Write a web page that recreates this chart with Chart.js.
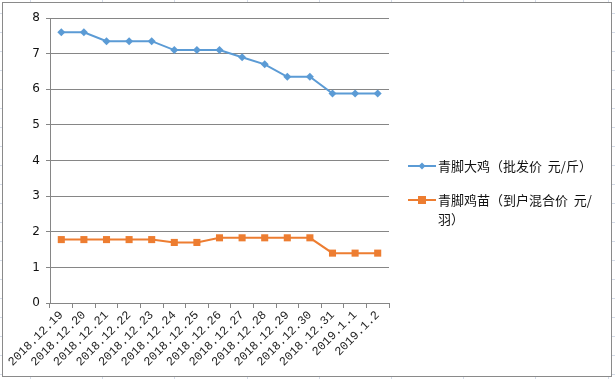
<!DOCTYPE html>
<html>
<head>
<meta charset="utf-8">
<script src="https://cdn.jsdelivr.net/npm/chart.js@4.4.1/dist/chart.umd.min.js"></script>
<style>
  html, body { margin: 0; padding: 0; background: #fff; }
  #wrap { width: 615px; height: 379px; position: relative; }
</style>
</head>
<body>
<div id="wrap"><canvas id="c" width="615" height="379"></canvas></div>
<script>
const categories = ['2018.12.19','2018.12.20','2018.12.21','2018.12.22','2018.12.23','2018.12.24','2018.12.25','2018.12.26','2018.12.27','2018.12.28','2018.12.29','2018.12.30','2018.12.31','2019.1.1','2019.1.2'];
const chickenPrice = [7.6, 7.6, 7.35, 7.35, 7.35, 7.1, 7.1, 7.1, 6.9, 6.7, 6.35, 6.35, 5.88, 5.88, 5.88];
const chickPrice = [1.78, 1.78, 1.78, 1.78, 1.78, 1.7, 1.7, 1.83, 1.83, 1.83, 1.83, 1.83, 1.4, 1.4, 1.4];
const seriesNames = ['青脚大鸡（批发价  元/斤）', '青脚鸡苗（到户混合价  元/羽）'];
const yTicks = [0, 1, 2, 3, 4, 5, 6, 7, 8];

const BLUE = '#5B9BD5';
const ORANGE = '#ED7D31';
const GRID = '#868686';
const CJK = '"Noto Sans CJK SC", "Noto Sans", sans-serif';

const framePlugin = {
  id: 'frame',
  beforeDraw(chart) {
    const ctx = chart.ctx;
    ctx.save();
    ctx.fillStyle = '#fff';
    ctx.fillRect(0, 0, 615, 379);
    ctx.strokeStyle = '#d4dbe8';
    ctx.lineWidth = 1;
    for (let x = 30; x < 615; x += 72.2) {
      ctx.beginPath(); ctx.moveTo(Math.round(x) + 0.5, 0); ctx.lineTo(Math.round(x) + 0.5, 379); ctx.stroke();
    }
    for (let y = 13; y < 379; y += 19) {
      ctx.beginPath(); ctx.moveTo(0, y + 0.5); ctx.lineTo(615, y + 0.5); ctx.stroke();
    }
    ctx.fillStyle = '#fff';
    ctx.fillRect(2, 2, 610, 375);
    ctx.strokeStyle = '#8a8a8a';
    ctx.lineWidth = 1;
    ctx.strokeRect(2.5, 2.5, 609, 374);
    ctx.restore();
  }
};

const legendPlugin = {
  id: 'customLegend',
  afterDraw(chart) {
    const ctx = chart.ctx;
    ctx.save();
    const x0 = 408, x1 = 436, tx = 438, maxW = 161, lh = 19;
    const ys = [166, 200];
    ctx.font = '13px ' + CJK;
    ctx.textBaseline = 'middle';
    chart.data.datasets.forEach((ds, i) => {
      const y = ys[i];
      ctx.strokeStyle = ds.borderColor;
      ctx.lineWidth = 2;
      ctx.beginPath(); ctx.moveTo(x0, y); ctx.lineTo(x1, y); ctx.stroke();
      ctx.fillStyle = ds.backgroundColor;
      const cx = (x0 + x1) / 2;
      if (ds.pointStyle === 'rect') {
        ctx.fillRect(cx - 4, y - 4, 8, 8);
      } else {
        ctx.beginPath();
        ctx.moveTo(cx, y - 3.5); ctx.lineTo(cx + 3.5, y); ctx.lineTo(cx, y + 3.5); ctx.lineTo(cx - 3.5, y);
        ctx.closePath(); ctx.fill();
      }
      const lines = [];
      let cur = '';
      for (const ch of ds.label) {
        if (ctx.measureText(cur + ch).width > maxW && cur) { lines.push(cur); cur = ch; }
        else cur += ch;
      }
      if (cur) lines.push(cur);
      ctx.fillStyle = '#111';
      lines.forEach((ln, k) => ctx.fillText(ln, tx, y + k * lh));
    });
    ctx.restore();
  }
};

new Chart(document.getElementById('c'), {
  type: 'line',
  data: {
    labels: categories,
    datasets: [
      {
        label: seriesNames[0], data: chickenPrice,
        borderColor: BLUE, backgroundColor: BLUE, borderWidth: 2,
        pointStyle: 'rectRot', pointRadius: 4, pointHoverRadius: 4,
        pointBorderWidth: 0, tension: 0
      },
      {
        label: seriesNames[1], data: chickPrice,
        borderColor: ORANGE, backgroundColor: ORANGE, borderWidth: 2,
        pointStyle: 'rect', pointRadius: 5, pointHoverRadius: 5,
        pointBorderWidth: 0, tension: 0
      }
    ]
  },
  options: {
    responsive: false,
    animation: false,
    devicePixelRatio: 1,
    layout: { padding: { left: 0, top: 18, right: 226, bottom: 0 } },
    plugins: { legend: { display: false }, tooltip: { enabled: false } },
    scales: {
      x: {
        type: 'category',
        offset: true,
        afterFit(s) { s.height = 76; },
        grid: { display: true, drawOnChartArea: false, drawTicks: true, tickLength: 5, color: GRID, offset: true },
        border: { display: true, color: GRID, width: 1 },
        ticks: {
          autoSkip: false, maxRotation: 45, minRotation: 45, padding: 0,
          color: '#222', font: { family: '"Liberation Mono", monospace', size: 12 }
        }
      },
      y: {
        min: 0, max: 8,
        afterFit(s) { s.width = 50; },
        afterBuildTicks(s) { s.ticks = yTicks.map(v => ({ value: v })); },
        grid: { color: GRID, lineWidth: 1, drawTicks: true, tickLength: 4 },
        border: { display: true, color: GRID, width: 1 },
        ticks: { color: '#111', padding: 6, font: { family: '"DejaVu Sans", sans-serif', size: 12 } }
      }
    }
  },
  plugins: [framePlugin, legendPlugin]
});
</script>
</body>
</html>
